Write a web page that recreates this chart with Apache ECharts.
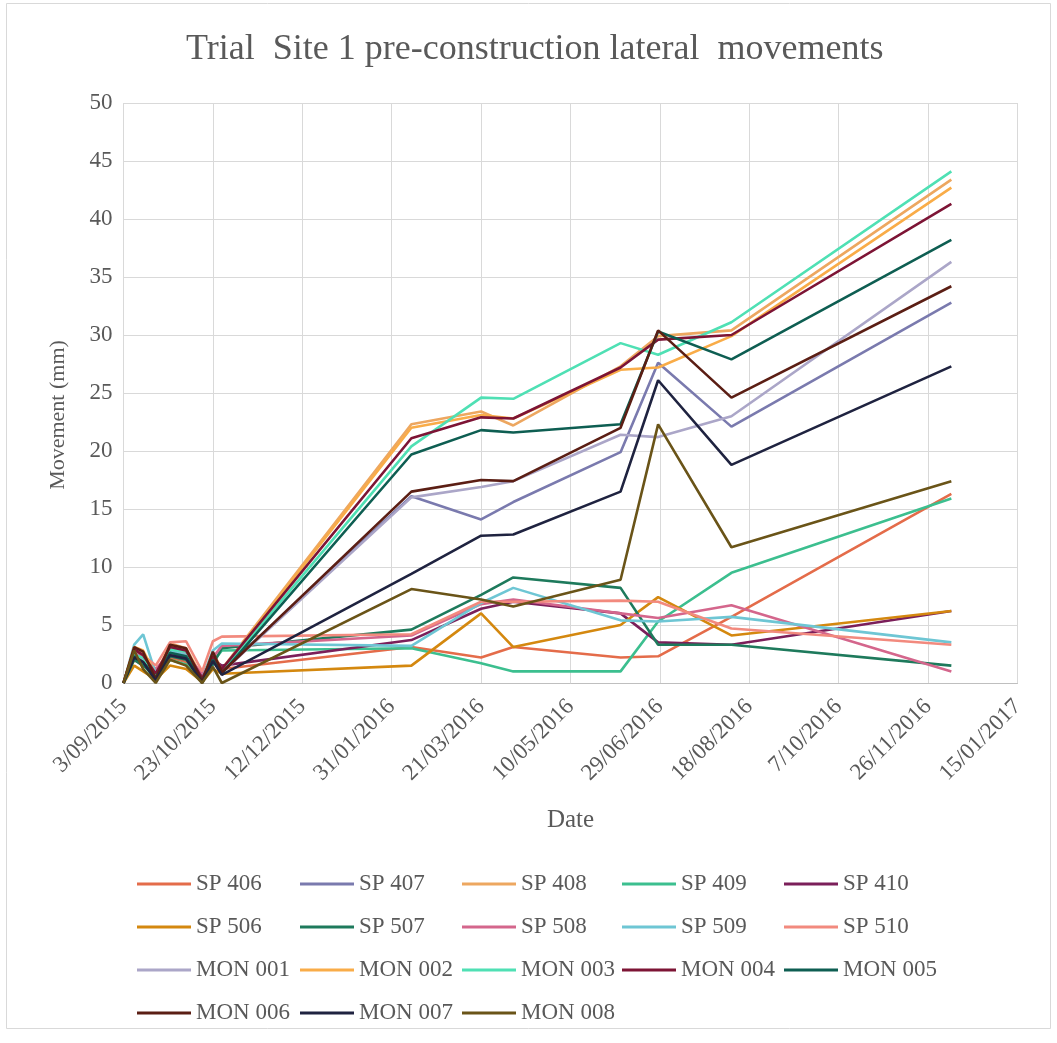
<!DOCTYPE html>
<html>
<head>
<meta charset="utf-8">
<script src="https://cdn.jsdelivr.net/npm/echarts@6/dist/echarts.min.js"></script>
<style>html,body{margin:0;padding:0;background:#fff}#c{width:1057px;height:1043px}</style>
</head>
<body>
<div id="c"></div>
<script>
// Measurement dates (shared by all series)
const dates = ['2015-09-03','2015-09-09','2015-09-14','2015-09-21','2015-09-29','2015-10-08','2015-10-17','2015-10-23','2015-10-28',
               '2016-02-11','2016-03-21','2016-04-08','2016-06-07','2016-06-28','2016-08-08','2016-12-09'];

const seriesNames = ['SP 406','SP 407','SP 408','SP 409','SP 410',
                     'SP 506','SP 507','SP 508','SP 509','SP 510',
                     'MON 001','MON 002','MON 003','MON 004','MON 005',
                     'MON 006','MON 007','MON 008'];

// Movement (mm)
const sp406  = [0, 2.0, 1.5, 0.8, 2.2, 1.8, 0.5, 1.8, 1.2,  3.1,  2.2,  3.1,  2.2,  2.3,  5.7, 16.3];
const sp407  = [0, 2.5, 2.0, 0.5, 2.8, 2.5, 0.3, 2.2, 1.0, 16.1, 14.1, 15.6, 19.9, 27.6, 22.1, 32.8];
const sp408  = [0, 3.0, 2.6, 0.6, 3.4, 3.0, 0.5, 2.6, 1.2, 22.3, 23.4, 22.2, 27.3, 29.9, 30.4, 43.4];
const sp409  = [0, 2.2, 1.6, 0.3, 2.0, 1.6, 0.2, 1.8, 2.8,  3.0,  1.7,  1.0,  1.0,  5.3,  9.5, 15.9];
const sp410  = [0, 2.6, 2.0, 1.0, 2.5, 2.2, 0.6, 2.0, 1.5,  3.7,  6.4,  7.0,  6.0,  3.5,  3.3,  6.2];
const sp506  = [0, 1.5, 1.0, 0.3, 1.5, 1.2, 0.1, 1.2, 0.8,  1.5,  6.0,  3.1,  5.0,  7.4,  4.1,  6.2];
const sp507  = [0, 2.0, 1.5, 0.6, 2.3, 2.0, 0.3, 1.6, 3.0,  4.6,  7.6,  9.1,  8.2,  3.3,  3.3,  1.5];
const sp508  = [0, 2.8, 2.2, 1.2, 2.6, 2.4, 0.8, 2.2, 3.2,  4.1,  6.8,  7.2,  6.0,  5.6,  6.7,  1.0];
const sp509  = [0, 3.3, 4.2, 0.8, 2.8, 2.5, 0.4, 2.8, 3.4,  3.2,  6.9,  8.2,  5.4,  5.3,  5.7,  3.5];
const sp510  = [0, 3.0, 2.4, 1.5, 3.5, 3.6, 1.0, 3.6, 4.0,  4.2,  7.0,  7.0,  7.1,  7.0,  4.7,  3.3];
const mon001 = [0, 2.6, 2.0, 0.6, 3.0, 2.6, 0.3, 2.2, 0.9, 16.0, 16.9, 17.4, 21.4, 21.2, 23.0, 36.3];
const mon002 = [0, 3.1, 2.8, 0.7, 3.2, 2.9, 0.3, 2.5, 1.1, 22.0, 23.1, 22.8, 27.0, 27.2, 29.9, 42.7];
const mon003 = [0, 2.4, 2.2, 0.4, 2.9, 2.7, 0.2, 2.4, 1.0, 20.4, 24.6, 24.5, 29.3, 28.3, 31.1, 44.1];
const mon004 = [0, 2.9, 2.4, 0.8, 3.1, 2.8, 0.4, 2.3, 1.2, 21.1, 22.9, 22.8, 27.2, 29.6, 30.0, 41.3];
const mon005 = [0, 2.3, 1.8, 0.5, 2.6, 2.3, 0.2, 2.0, 0.8, 19.7, 21.8, 21.6, 22.3, 30.3, 27.9, 38.2];
const mon006 = [0, 3.1, 2.7, 0.3, 3.3, 3.0, 0.1, 2.7, 0.9, 16.5, 17.5, 17.4, 22.0, 30.4, 24.6, 34.2];
const mon007 = [0, 2.2, 1.8, 0.2, 2.4, 2.1, 0.0, 1.9, 0.7,  9.4, 12.7, 12.8, 16.5, 26.1, 18.8, 27.3];
const mon008 = [0, 2.8, 1.2, 0.0, 2.0, 1.5, 0.0, 1.4, 0.0,  8.1,  7.2,  6.6,  8.9, 22.3, 11.7, 17.4];

const seriesValues = [sp406, sp407, sp408, sp409, sp410, sp506, sp507, sp508, sp509, sp510,
                      mon001, mon002, mon003, mon004, mon005, mon006, mon007, mon008];

const colors = ['#E46C4A','#7A7AAE','#EDA760','#3CBF8F','#7B1F5A',
                '#D4880F','#1E7A5C','#D4668C','#6EC6D4','#F28A7E',
                '#ABA6C8','#F9AC48','#4FE0B4','#7D1435','#0E5E52',
                '#5B1E14','#1F2340','#6A5418'];

// x axis: Excel date serials, ticks every 50 days from 3/09/2015
const xMin = 42250, xMax = 42750, xStep = 50;
const yMin = 0, yMax = 50, yStep = 5;

const EPOCH = Date.UTC(1899, 11, 30);
function toSerial(s) {
  const [y, m, d] = s.split('-').map(Number);
  return Math.round((Date.UTC(y, m - 1, d) - EPOCH) / 86400000);
}
function fmtSerial(v) {
  const dt = new Date(EPOCH + Math.round(v) * 86400000);
  const m = dt.getUTCMonth() + 1;
  return dt.getUTCDate() + '/' + (m < 10 ? '0' + m : m) + '/' + dt.getUTCFullYear();
}

const FONT = 'Liberation Serif';
const TXT = '#595959';

const series = seriesNames.map((name, i) => ({
  name: name,
  type: 'line',
  symbol: 'none',
  showSymbol: false,
  smooth: false,
  lineStyle: { width: 2.6, color: colors[i] },
  itemStyle: { color: colors[i] },
  data: dates.map((d, k) => [toSerial(d), seriesValues[i][k]])
}));

const colLeft = [137, 300, 462, 622, 784];
const legends = colLeft.map((lx, c) => ({
  orient: 'vertical',
  left: lx,
  top: 872,
  icon: 'rect',
  itemWidth: 54,
  itemHeight: 3,
  itemGap: 19,
  padding: 0,
  data: seriesNames.filter((_, i) => i % 5 === c),
  textStyle: { fontFamily: FONT, fontSize: 23, color: TXT, lineHeight: 24 },
  selectedMode: false
}));

const chart = echarts.init(document.getElementById('c'), null, { renderer: 'canvas' });
chart.setOption({
  animation: false,
  backgroundColor: '#ffffff',
  color: colors,
  title: {
    text: 'Trial  Site 1 pre-construction lateral  movements',
    left: 186,
    top: 32,
    padding: 0,
    textStyle: { fontFamily: FONT, fontSize: 36, fontWeight: 'normal', color: TXT }
  },
  graphic: [{
    type: 'rect', silent: true,
    shape: { x: 6.5, y: 3.5, width: 1044, height: 1025 },
    style: { fill: 'none', stroke: '#D9D9D9', lineWidth: 1 }
  }],
  legend: legends,
  grid: { left: 123.5, right: 39.5, top: 103, bottom: 360, containLabel: false },
  xAxis: {
    type: 'value',
    min: xMin, max: xMax, interval: xStep,
    name: 'Date',
    nameLocation: 'middle',
    nameGap: 125,
    nameTextStyle: { fontFamily: FONT, fontSize: 25, color: TXT },
    axisLine: { show: true, lineStyle: { color: '#BFBFBF', width: 1 } },
    axisTick: { show: false },
    splitLine: { show: true, lineStyle: { color: '#D9D9D9', width: 1 } },
    axisLabel: {
      rotate: 45, margin: 20,
      fontFamily: FONT, fontSize: 23, color: TXT,
      formatter: fmtSerial,
      showMinLabel: true, showMaxLabel: true
    }
  },
  yAxis: {
    type: 'value',
    min: yMin, max: yMax, interval: yStep,
    name: 'Movement (mm)',
    nameLocation: 'middle',
    nameRotate: 90,
    nameGap: 54,
    nameTextStyle: { fontFamily: FONT, fontSize: 22, color: TXT, padding: [0, 44, 0, 0] },
    axisLine: { show: false },
    axisTick: { show: false },
    splitLine: { show: true, lineStyle: { color: '#D9D9D9', width: 1 } },
    axisLabel: { margin: 11, fontFamily: FONT, fontSize: 23, color: TXT }
  },
  series: series
});
</script>
</body>
</html>
